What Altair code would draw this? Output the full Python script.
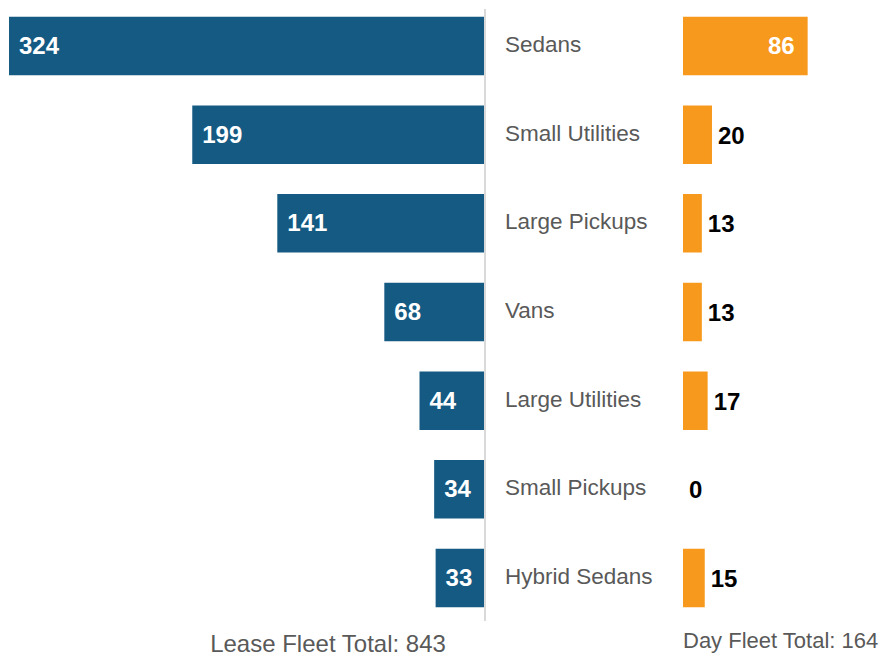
import altair as alt
import pandas as pd

categories = ["Sedans", "Small Utilities", "Large Pickups", "Vans",
              "Large Utilities", "Small Pickups", "Hybrid Sedans"]
lease = [324, 199, 141, 68, 44, 34, 33]
day = [86, 20, 13, 13, 17, 0, 15]
lease_total = 843
day_total = 164

df = pd.DataFrame({"cat": categories, "lease": lease, "day": day})

BLUE = "#145a83"
ORANGE = "#f7991d"
GRAY = "#595959"
FONT = "Liberation Sans"

H = 598
yenc = alt.Y("cat:N", sort=categories, axis=None,
             scale=alt.Scale(type="band", paddingInner=0.34, paddingOuter=0.042))

base = alt.Chart(df)

left_bars = base.mark_bar(color=BLUE).encode(
    x=alt.X("lease:Q", axis=None, scale=alt.Scale(domain=[0, 324.7], reverse=True, nice=False)),
    y=yenc,
)
left_text = base.mark_text(align="left", baseline="middle", dx=10, dy=1,
                           color="white", font=FONT, fontWeight="bold", fontSize=24).encode(
    x="lease:Q", y=yenc, text="lease:Q")
left = alt.layer(left_bars, left_text).properties(
    width=476, height=H,
    title=alt.TitleParams(f"Lease Fleet Total: {lease_total}", orient="bottom", anchor="middle",
                          dx=82, offset=22, baseline="top", fontSize=24, font=FONT,
                          fontWeight="normal", color=GRAY))

mid_rule = base.mark_rule(color="#d9d9d9", strokeWidth=2).encode(
    x=alt.value(1), y=alt.value(-4), y2=alt.value(608))
mid_text = base.mark_text(align="left", baseline="middle", dx=21, dy=-1,
                          color=GRAY, font=FONT, fontSize=22.5).encode(
    x=alt.value(0), y=yenc, text="cat:N")
mid = alt.layer(mid_rule, mid_text).properties(width=199, height=H)

xr = alt.X("day:Q", axis=None, scale=alt.Scale(domain=[0, 136.6], nice=False))
right_bars = base.mark_bar(color=ORANGE).encode(x=xr, y=yenc)
right_in = base.transform_filter("datum.day >= 50").mark_text(
    align="right", baseline="middle", dx=-13, dy=1, color="white",
    font=FONT, fontWeight="bold", fontSize=24).encode(x=xr, y=yenc, text="day:Q")
right_out = base.transform_filter("datum.day < 50").mark_text(
    align="left", baseline="middle", dx=6, dy=2, color="black",
    font=FONT, fontWeight="bold", fontSize=24).encode(x=xr, y=yenc, text="day:Q")
right = alt.layer(right_bars, right_in, right_out).properties(
    width=198, height=H,
    title=alt.TitleParams(f"Day Fleet Total: {day_total}", orient="bottom", anchor="start",
                          dx=0, offset=20, baseline="top", fontSize=22, font=FONT,
                          fontWeight="normal", color=GRAY))

chart = alt.hconcat(left, mid, right, spacing=0).properties(padding=0).configure_view(
    stroke=None).configure_concat(spacing=0)

chart.save("out.html", embed_options={"renderer": "svg", "actions": False})
